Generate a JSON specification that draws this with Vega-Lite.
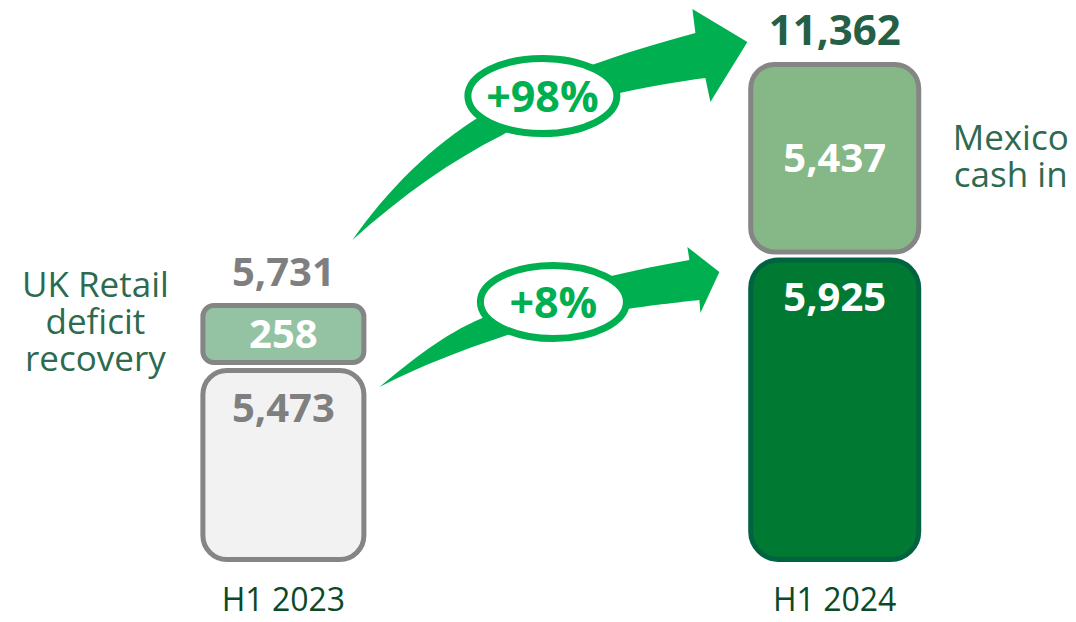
{
  "$schema": "https://vega.github.io/schema/vega-lite/v6.json",
  "width": 1076,
  "height": 622,
  "autosize": {"type": "none"},
  "padding": 0,
  "background": "white",
  "config": {"view": {"stroke": null}, "font": "Open Sans", "text": {"font": "Open Sans"}},
  "datasets": {
    "segments": [
      {"period": "H1 2023", "year": 2023, "component": "Underlying", "order": 1, "value": 5473},
      {"period": "H1 2023", "year": 2023, "component": "UK Retail deficit recovery", "order": 2, "value": 258},
      {"period": "H1 2024", "year": 2024, "component": "Underlying", "order": 1, "value": 5925},
      {"period": "H1 2024", "year": 2024, "component": "Mexico cash in", "order": 2, "value": 5437}
    ],
    "growth": [
      {"measure": "Total", "from": "H1 2023", "to": "H1 2024", "year": 2023, "start": 5731, "end": 11362, "growth": "+98%"},
      {"measure": "Underlying", "from": "H1 2023", "to": "H1 2024", "year": 2023, "start": 5473, "end": 5925, "growth": "+8%"}
    ]
  },
  "layer": [
    {
      "data": {"name": "segments"},
      "transform": [
        {"stack": "value", "groupby": ["period"], "sort": [{"field": "order", "order": "ascending"}], "as": ["v0", "v1"]},
        {"filter": "datum.order == 1 && datum.year == 2023"}
      ],
      "mark": {"type": "bar", "width": 161, "cornerRadius": 24, "fill": "#f2f2f2", "stroke": "#858585", "strokeWidth": 5, "yOffset": 4},
      "encoding": {
        "x": {"field": "year", "type": "quantitative", "scale": {"domain": [2022.49506, 2024.42857], "nice": false, "zero": false}, "axis": null},
        "y": {"field": "v1", "type": "quantitative", "scale": {"type": "linear", "domain": [0, 5473, 5731, 5925, 11362], "range": [559.5, 366.5, 305.5, 256, 64.5], "nice": false, "zero": false}, "axis": null},
        "y2": {"field": "v0"}
      }
    },
    {
      "data": {"name": "segments"},
      "transform": [
        {"stack": "value", "groupby": ["period"], "sort": [{"field": "order", "order": "ascending"}], "as": ["v0", "v1"]},
        {"filter": "datum.order == 2 && datum.year == 2023"}
      ],
      "mark": {"type": "bar", "width": 161, "cornerRadius": 11, "fill": "#94c3a3", "stroke": "#858585", "strokeWidth": 5, "y2Offset": -4},
      "encoding": {
        "x": {"field": "year", "type": "quantitative", "scale": {"domain": [2022.49506, 2024.42857], "nice": false, "zero": false}, "axis": null},
        "y": {"field": "v1", "type": "quantitative", "scale": {"type": "linear", "domain": [0, 5473, 5731, 5925, 11362], "range": [559.5, 366.5, 305.5, 256, 64.5], "nice": false, "zero": false}, "axis": null},
        "y2": {"field": "v0"}
      }
    },
    {
      "data": {"name": "segments"},
      "transform": [
        {"stack": "value", "groupby": ["period"], "sort": [{"field": "order", "order": "ascending"}], "as": ["v0", "v1"]},
        {"filter": "datum.order == 1 && datum.year == 2024"}
      ],
      "mark": {"type": "bar", "width": 168, "cornerRadius": 28, "fill": "#007a33", "stroke": "#00633f", "strokeWidth": 5, "yOffset": 4},
      "encoding": {
        "x": {"field": "year", "type": "quantitative", "scale": {"domain": [2022.49506, 2024.42857], "nice": false, "zero": false}, "axis": null},
        "y": {"field": "v1", "type": "quantitative", "scale": {"type": "linear", "domain": [0, 5473, 5731, 5925, 11362], "range": [559.5, 366.5, 305.5, 256, 64.5], "nice": false, "zero": false}, "axis": null},
        "y2": {"field": "v0"}
      }
    },
    {
      "data": {"name": "segments"},
      "transform": [
        {"stack": "value", "groupby": ["period"], "sort": [{"field": "order", "order": "ascending"}], "as": ["v0", "v1"]},
        {"filter": "datum.order == 2 && datum.year == 2024"}
      ],
      "mark": {"type": "bar", "width": 168, "cornerRadius": 24, "fill": "#86b787", "stroke": "#858585", "strokeWidth": 5, "y2Offset": -4},
      "encoding": {
        "x": {"field": "year", "type": "quantitative", "scale": {"domain": [2022.49506, 2024.42857], "nice": false, "zero": false}, "axis": null},
        "y": {"field": "v1", "type": "quantitative", "scale": {"type": "linear", "domain": [0, 5473, 5731, 5925, 11362], "range": [559.5, 366.5, 305.5, 256, 64.5], "nice": false, "zero": false}, "axis": null},
        "y2": {"field": "v0"}
      }
    },
    {
      "data": {"name": "segments"},
      "transform": [
        {"stack": "value", "groupby": ["period"], "sort": [{"field": "order", "order": "ascending"}], "as": ["v0", "v1"]},
        {"filter": "datum.order == 1"}
      ],
      "encoding": {
        "x": {"field": "year", "type": "quantitative", "scale": {"domain": [2022.49506, 2024.42857], "nice": false, "zero": false}, "axis": null}
      },
      "layer": [
        {
          "mark": {"type": "text", "font": "Open Sans", "fontWeight": "bold", "fontSize": 40, "align": "center", "baseline": "alphabetic", "dy": 55},
          "encoding": {
            "y": {"field": "v1", "type": "quantitative", "scale": {"type": "linear", "domain": [0, 5473, 5731, 5925, 11362], "range": [559.5, 366.5, 305.5, 256, 64.5], "nice": false, "zero": false}, "axis": null},
            "text": {"field": "value", "type": "quantitative", "format": ",.0f"},
            "color": {"condition": {"test": "datum.year == 2023", "value": "#7f7f7f"}, "value": "#ffffff"}
          }
        },
        {
          "mark": {"type": "text", "font": "Open Sans", "fontSize": 32, "align": "center", "baseline": "alphabetic", "dy": 51, "color": "#0b4a28"},
          "encoding": {
            "y": {"field": "v0", "type": "quantitative", "scale": {"type": "linear", "domain": [0, 5473, 5731, 5925, 11362], "range": [559.5, 366.5, 305.5, 256, 64.5], "nice": false, "zero": false}, "axis": null},
            "text": {"field": "period"}
          }
        }
      ]
    },
    {
      "data": {"name": "segments"},
      "transform": [
        {"stack": "value", "groupby": ["period"], "sort": [{"field": "order", "order": "ascending"}], "as": ["v0", "v1"]},
        {"filter": "datum.order == 2"},
        {"fold": ["v0", "v1"], "as": ["edge", "pos"]},
        {"aggregate": [{"op": "mean", "field": "pos", "as": "mid"}], "groupby": ["period", "year", "component", "value"]}
      ],
      "encoding": {
        "x": {"field": "year", "type": "quantitative", "scale": {"domain": [2022.49506, 2024.42857], "nice": false, "zero": false}, "axis": null},
        "y": {"field": "mid", "type": "quantitative", "scale": {"type": "linear", "domain": [0, 5473, 5731, 5925, 11362], "range": [559.5, 366.5, 305.5, 256, 64.5], "nice": false, "zero": false}, "axis": null}
      },
      "layer": [
        {
          "mark": {"type": "text", "font": "Open Sans", "fontWeight": "bold", "fontSize": 40, "align": "center", "baseline": "middle", "color": "#ffffff"},
          "encoding": {"text": {"field": "value", "type": "quantitative", "format": ",.0f"}}
        },
        {
          "transform": [{"filter": "datum.component == 'UK Retail deficit recovery'"}],
          "mark": {"type": "text", "font": "Open Sans", "fontSize": 35, "align": "center", "baseline": "top", "lineHeight": 37, "color": "#2d6a4f", "dx": -188, "dy": -66.6, "text": ["UK Retail", "deficit", "recovery"]}
        },
        {
          "transform": [{"filter": "datum.component == 'Mexico cash in'"}],
          "mark": {"type": "text", "font": "Open Sans", "fontSize": 35, "align": "center", "baseline": "top", "lineHeight": 37, "color": "#2d6a4f", "dx": 176, "dy": -37.9, "text": ["Mexico", "cash in"]}
        }
      ]
    },
    {
      "data": {"name": "segments"},
      "transform": [
        {"aggregate": [{"op": "sum", "field": "value", "as": "total"}], "groupby": ["period", "year"]}
      ],
      "mark": {"type": "text", "font": "Open Sans", "fontWeight": "bold", "align": "center", "baseline": "alphabetic", "dy": -20},
      "encoding": {
        "x": {"field": "year", "type": "quantitative", "scale": {"domain": [2022.49506, 2024.42857], "nice": false, "zero": false}, "axis": null},
        "y": {"field": "total", "type": "quantitative", "scale": {"type": "linear", "domain": [0, 5473, 5731, 5925, 11362], "range": [559.5, 366.5, 305.5, 256, 64.5], "nice": false, "zero": false}, "axis": null},
        "text": {"field": "total", "type": "quantitative", "format": ",.0f"},
        "color": {"condition": {"test": "datum.year == 2023", "value": "#7f7f7f"}, "value": "#246047"},
        "size": {"condition": {"test": "datum.year == 2024", "value": 42}, "value": 40}
      }
    },
    {
      "data": {"name": "growth"},
      "encoding": {
        "x": {"field": "year", "type": "quantitative", "scale": {"domain": [2022.49506, 2024.42857], "nice": false, "zero": false}, "axis": null},
        "y": {"field": "start", "type": "quantitative", "scale": {"type": "linear", "domain": [0, 5473, 5731, 5925, 11362], "range": [559.5, 366.5, 305.5, 256, 64.5], "nice": false, "zero": false}, "axis": null}
      },
      "layer": [
        {
          "transform": [{"filter": "datum.measure == 'Total'"}],
          "mark": {"type": "point", "shape": "M 69 -65.5 C 104 -115.5 149 -160.5 199 -190.5 C 249 -220.5 319 -247.5 412 -272.5 L 409 -296.5 L 464 -263.5 L 427 -203.5 L 422 -227.5 C 369 -220.5 279 -205.5 219 -170.5 C 169 -145.5 119 -110.5 69 -65.5 Z", "size": 4, "filled": true, "fill": "#00b050", "color": "#00b050", "opacity": 1, "strokeWidth": 0}
        },
        {
          "transform": [{"filter": "datum.measure == 'Underlying'"}],
          "mark": {"type": "point", "shape": "M 96 20.5 C 129 -6.5 159 -31.5 199 -48.5 C 249 -70.5 319 -91.5 406 -106.5 L 404 -119.5 L 436 -94.5 L 417 -53.5 L 416 -66.5 C 379 -62.5 279 -51.5 224 -31.5 C 179 -16.5 139 -1.5 96 20.5 Z", "size": 4, "filled": true, "fill": "#00b050", "color": "#00b050", "opacity": 1, "strokeWidth": 0}
        },
        {
          "transform": [{"filter": "datum.measure == 'Total'"}],
          "mark": {"type": "point", "shape": "M 184.5 -209.5 A 74.5 37.5 0 1 0 333.5 -209.5 A 74.5 37.5 0 1 0 184.5 -209.5 Z", "size": 4, "filled": true, "fill": "#ffffff", "stroke": "#00b050", "strokeWidth": 7, "opacity": 1}
        },
        {
          "transform": [{"filter": "datum.measure == 'Underlying'"}],
          "mark": {"type": "point", "shape": "M 197 -64.5 A 73 36.5 0 1 0 343 -64.5 A 73 36.5 0 1 0 197 -64.5 Z", "size": 4, "filled": true, "fill": "#ffffff", "stroke": "#00b050", "strokeWidth": 7, "opacity": 1}
        },
        {
          "transform": [{"filter": "datum.measure == 'Total'"}],
          "mark": {"type": "text", "font": "Open Sans", "fontWeight": "bold", "fontSize": 43, "align": "center", "baseline": "middle", "color": "#00b050", "dx": 259, "dy": -207},
          "encoding": {"text": {"field": "growth"}}
        },
        {
          "transform": [{"filter": "datum.measure == 'Underlying'"}],
          "mark": {"type": "text", "font": "Open Sans", "fontWeight": "bold", "fontSize": 43, "align": "center", "baseline": "middle", "color": "#00b050", "dx": 270, "dy": -62},
          "encoding": {"text": {"field": "growth"}}
        }
      ]
    }
  ]
}
